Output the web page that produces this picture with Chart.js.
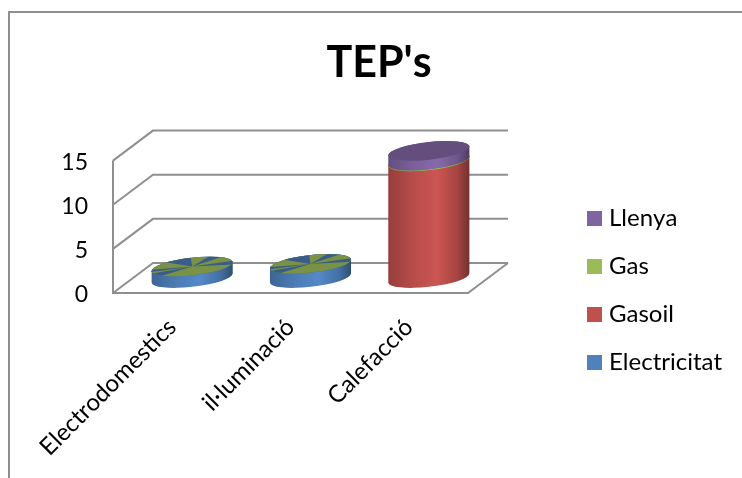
<!DOCTYPE html>
<html>
<head>
<meta charset="utf-8">
<title>TEP's</title>
<script src="https://cdn.jsdelivr.net/npm/chart.js@4"></script>
<style>
  html, body { margin: 0; padding: 0; background: #fff; }
  #wrap { width: 742px; height: 478px; }
</style>
</head>
<body>
<div id="wrap"><canvas id="tep-chart"></canvas></div>
<script>
// Dades
const categories = ['Electrodomestics', 'il·luminació', 'Calefacció'];
const electricitat = [1.3, 1.6, 0];
const gasoil = [0, 0, 13.2];
const gas = [0, 0, 0.1];
const llenya = [0, 0, 1.1];
const yTicks = [0, 5, 10, 15];

const BLUE = '#4f81bd', RED = '#c0504d', GREEN = '#9bbb59', PURPLE = '#8064a2';
const LINE = '#8f8f8f';
const FONT = 'Lato, Carlito, sans-serif';

// fake 3D box: how far the back wall is shifted from the front plane
const DEPTH_X = 40, DEPTH_Y = -30;
// cylinder cross-section
const RX = 40.8, RY = 8.8, TILT = -6.5 * Math.PI / 180;
// blue slices showing through the flat top of the short cylinders (degrees)
const topSlices = [[-171, -99], [-31, -18], [-8, -3], [172.5, 175.5], [163, 170]];

function shade(hex, f) {
    const n = parseInt(hex.slice(1), 16);
    const c = [n >> 16, (n >> 8) & 255, n & 255].map(v => Math.min(255, Math.round(v * f)));
    return `rgb(${c[0]},${c[1]},${c[2]})`;
}

// legend square as an image, so the text can sit closer than boxWidth allows
function swatch(color) {
    const c = document.createElement('canvas');
    c.width = 15;
    c.height = 15;
    const g = c.getContext('2d');
    g.fillStyle = color;
    g.fillRect(0, 0, 15, 15);
    return c;
}

function ellipsePath(ctx, cx, cy, start, end, ccw) {
    ctx.ellipse(cx, cy, RX, RY, TILT, start, end, ccw);
}

function drawCylinderPart(ctx, x, yTop, yBase, color) {
    // parameter of the left/right silhouette points of a tilted ellipse
    const t0 = Math.atan2(-RY * Math.sin(TILT), RX * Math.cos(TILT));
    const grad = ctx.createLinearGradient(x - RX, 0, x + RX, 0);
    grad.addColorStop(0, shade(color, 0.78));
    grad.addColorStop(0.3, shade(color, 0.95));
    grad.addColorStop(0.6, shade(color, 1.06));
    grad.addColorStop(0.85, shade(color, 0.86));
    grad.addColorStop(1, shade(color, 0.6));
    ctx.beginPath();
    ellipsePath(ctx, x, yBase, t0 + Math.PI, t0, true);
    ellipsePath(ctx, x, yTop, t0, t0 - Math.PI, true);
    ctx.closePath();
    ctx.fillStyle = grad;
    ctx.fill();
}

function drawTopFace(ctx, x, y, color) {
    ctx.beginPath();
    ellipsePath(ctx, x, y, 0, Math.PI * 2, false);
    ctx.fillStyle = shade(color, 0.78);
    ctx.fill();
}

function drawSlicedTop(ctx, x, y) {
    drawTopFace(ctx, x, y, GREEN);
    ctx.save();
    ctx.beginPath();
    ellipsePath(ctx, x, y, 0, Math.PI * 2, false);
    ctx.clip();
    ctx.fillStyle = shade(BLUE, 0.72);
    topSlices.forEach(([a, b]) => {
        ctx.beginPath();
        ctx.moveTo(x, y);
        ctx.lineTo(x + 100 * Math.cos(a * Math.PI / 180), y + 100 * Math.sin(a * Math.PI / 180));
        ctx.lineTo(x + 100 * Math.cos(b * Math.PI / 180), y + 100 * Math.sin(b * Math.PI / 180));
        ctx.closePath();
        ctx.fill();
    });
    ctx.restore();
}

const box3d = {
    id: 'box3d',
    beforeInit(chart) {
        // reserve a wide column for the legend
        const fit = chart.legend.fit;
        chart.legend.fit = function () {
            fit.call(this);
            this.width = 274;
        };
    },
    afterLayout(chart) {
        chart.legend.left = 568;
        chart.legend.top = 182;
    },
    beforeDraw(chart) {
        const ctx = chart.ctx;
        const { left, right, bottom } = chart.chartArea;
        const y = chart.scales.y;
        // the l·l pair collapses when kerned
        ctx.fontKerning = 'none';
        // Lato digits sit a little high against the tick position
        y.getLabelItems(chart.chartArea).forEach(item => { item.options.translation[1] += 2; });
        ctx.save();
        // chart frame
        ctx.strokeStyle = LINE;
        ctx.lineWidth = 2;
        ctx.beginPath();
        ctx.moveTo(9, 478);
        ctx.lineTo(9, 12);
        ctx.lineTo(742, 12);
        ctx.stroke();
        // walls and floor
        ctx.lineWidth = 2;
        ctx.beginPath();
        yTicks.forEach(v => {
            const py = y.getPixelForValue(v);
            ctx.moveTo(left, py);
            ctx.lineTo(left + DEPTH_X, py + DEPTH_Y);
            ctx.lineTo(right + DEPTH_X, py + DEPTH_Y);
        });
        ctx.moveTo(left, y.getPixelForValue(yTicks[yTicks.length - 1]));
        ctx.lineTo(left, bottom);
        ctx.lineTo(right, bottom);
        ctx.lineTo(right + DEPTH_X, bottom + DEPTH_Y);
        ctx.stroke();
        ctx.restore();
    },
    beforeDatasetsDraw(chart) {
        const ctx = chart.ctx;
        ctx.save();
        categories.forEach((_, i) => {
            let topPart = null;
            chart.data.datasets.forEach((ds, d) => {
                if (!ds.data[i]) return;
                const bar = chart.getDatasetMeta(d).data[i];
                const x = bar.x + DEPTH_X / 2;
                drawCylinderPart(ctx, x, bar.y + DEPTH_Y / 2, bar.base + DEPTH_Y / 2, ds.backgroundColor);
                drawTopFace(ctx, x, bar.y + DEPTH_Y / 2, ds.backgroundColor);
                topPart = { x, y: bar.y + DEPTH_Y / 2, d };
            });
            // zero-height Gas disc sits on the same plane as the Electricitat top
            if (topPart && topPart.d === 0) drawSlicedTop(ctx, topPart.x, topPart.y);
        });
        ctx.restore();
        return false;
    }
};

new Chart(document.getElementById('tep-chart'), {
    type: 'bar',
    data: {
        labels: categories,
        datasets: [
            { label: 'Electricitat', data: electricitat, backgroundColor: BLUE },
            { label: 'Gasoil', data: gasoil, backgroundColor: RED },
            { label: 'Gas', data: gas, backgroundColor: GREEN },
            { label: 'Llenya', data: llenya, backgroundColor: PURPLE }
        ]
    },
    options: {
        responsive: true,
        maintainAspectRatio: false,
        animation: false,
        layout: { padding: { left: 16 } },
        datasets: { bar: { barThickness: 81 } },
        scales: {
            x: {
                stacked: true,
                grid: { display: false },
                border: { display: false },
                afterFit(scale) { scale.height = 185; },
                ticks: {
                    color: '#000',
                    font: { family: FONT, size: 24 },
                    minRotation: 45,
                    maxRotation: 45,
                    padding: 12
                }
            },
            y: {
                stacked: true,
                min: 0,
                max: 15,
                grid: { display: false },
                border: { display: false },
                afterFit(scale) { scale.width = 97; },
                afterBuildTicks(scale) { scale.ticks = yTicks.map(v => ({ value: v })); },
                ticks: {
                    color: '#000',
                    font: { family: FONT, size: 23 },
                    padding: 17
                }
            }
        },
        plugins: {
            title: {
                display: true,
                text: "TEP's",
                color: '#000',
                font: { family: FONT, size: 43, weight: 'bold', lineHeight: 1.2 },
                padding: { top: 37, bottom: 72 }
            },
            legend: {
                position: 'right',
                align: 'start',
                reverse: true,
                labels: {
                    color: '#000',
                    font: { family: FONT, size: 24 },
                    usePointStyle: true,
                    pointStyleWidth: 5,
                    boxHeight: 15,
                    padding: 24,
                    generateLabels(chart) {
                        return Chart.defaults.plugins.legend.labels.generateLabels(chart)
                            .map(item => ({ ...item, pointStyle: swatch(item.fillStyle) }));
                    }
                }
            },
            tooltip: { enabled: false }
        }
    },
    plugins: [box3d]
});
</script>
</body>
</html>
